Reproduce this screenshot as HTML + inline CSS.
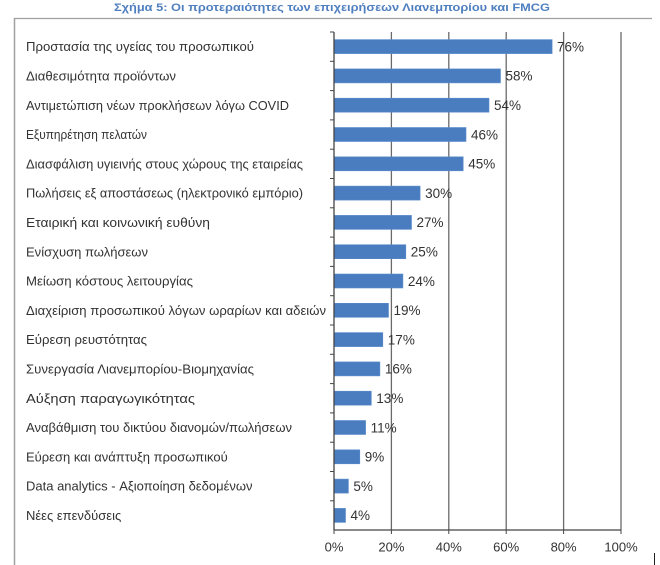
<!DOCTYPE html>
<html><head><meta charset="utf-8"><style>
html,body{margin:0;padding:0;background:#fff;}
svg{display:block;}
text{font-family:"Liberation Sans",Arial,sans-serif;}
</style></head><body>
<svg width="660" height="565" viewBox="0 0 660 565" xmlns="http://www.w3.org/2000/svg">
<rect width="660" height="565" fill="#fff"/>
<text x="332" y="11" font-size="11" font-weight="bold" fill="#4f7fbf" text-anchor="middle" textLength="436" lengthAdjust="spacingAndGlyphs">Σχήμα 5: Οι προτεραιότητες των επιχειρήσεων Λιανεμπορίου και FMCG</text>
<line x1="14" y1="18.5" x2="652" y2="18.5" stroke="#a0a0a0" stroke-width="1.2"/>
<line x1="14.5" y1="18" x2="14.5" y2="565" stroke="#a0a0a0" stroke-width="1.5"/>
<line x1="654.5" y1="553" x2="654.5" y2="565" stroke="#222" stroke-width="1"/>
<g stroke="#6a6a6a" stroke-width="1.3">
<line x1="391.4" y1="32" x2="391.4" y2="530"/>
<line x1="448.8" y1="32" x2="448.8" y2="530"/>
<line x1="506.2" y1="32" x2="506.2" y2="530"/>
<line x1="563.6" y1="32" x2="563.6" y2="530"/>
<line x1="621" y1="32" x2="621" y2="530"/>
</g>
<g fill="#4a7dc0" stroke="#5b8ccc" stroke-width="0.6">
<rect x="334" y="39.6" width="218.1" height="14"/>
<rect x="334" y="68.9" width="166.5" height="14"/>
<rect x="334" y="98.2" width="155" height="14"/>
<rect x="334" y="127.5" width="132" height="14"/>
<rect x="334" y="156.8" width="129.2" height="14"/>
<rect x="334" y="186.1" width="86.1" height="14"/>
<rect x="334" y="215.4" width="77.5" height="14"/>
<rect x="334" y="244.7" width="71.8" height="14"/>
<rect x="334" y="274" width="68.9" height="14"/>
<rect x="334" y="303.3" width="54.5" height="14"/>
<rect x="334" y="332.6" width="48.8" height="14"/>
<rect x="334" y="361.9" width="45.9" height="14"/>
<rect x="334" y="391.2" width="37.3" height="14"/>
<rect x="334" y="420.5" width="31.6" height="14"/>
<rect x="334" y="449.8" width="25.8" height="14"/>
<rect x="334" y="479.1" width="14.4" height="14"/>
<rect x="334" y="508.4" width="11.5" height="14"/>
</g>
<g stroke="#444" stroke-width="1.3">
<line x1="334" y1="32" x2="334" y2="530"/>
<line x1="334" y1="530" x2="621" y2="530"/>
</g>
<g stroke="#444" stroke-width="1">
<line x1="330" y1="32" x2="334" y2="32"/>
<line x1="330" y1="61.3" x2="334" y2="61.3"/>
<line x1="330" y1="90.6" x2="334" y2="90.6"/>
<line x1="330" y1="119.9" x2="334" y2="119.9"/>
<line x1="330" y1="149.2" x2="334" y2="149.2"/>
<line x1="330" y1="178.5" x2="334" y2="178.5"/>
<line x1="330" y1="207.8" x2="334" y2="207.8"/>
<line x1="330" y1="237.1" x2="334" y2="237.1"/>
<line x1="330" y1="266.4" x2="334" y2="266.4"/>
<line x1="330" y1="295.7" x2="334" y2="295.7"/>
<line x1="330" y1="325" x2="334" y2="325"/>
<line x1="330" y1="354.3" x2="334" y2="354.3"/>
<line x1="330" y1="383.6" x2="334" y2="383.6"/>
<line x1="330" y1="412.9" x2="334" y2="412.9"/>
<line x1="330" y1="442.2" x2="334" y2="442.2"/>
<line x1="330" y1="471.5" x2="334" y2="471.5"/>
<line x1="330" y1="500.8" x2="334" y2="500.8"/>
<line x1="334" y1="530" x2="334" y2="534"/>
<line x1="391.4" y1="530" x2="391.4" y2="534"/>
<line x1="448.8" y1="530" x2="448.8" y2="534"/>
<line x1="506.2" y1="530" x2="506.2" y2="534"/>
<line x1="563.6" y1="530" x2="563.6" y2="534"/>
<line x1="621" y1="530" x2="621" y2="534"/>
</g>
<g font-size="13" fill="#333">
<text x="26" y="51.2" textLength="228" lengthAdjust="spacingAndGlyphs">Προστασία της υγείας του προσωπικού</text>
<text x="26" y="80.5" textLength="150" lengthAdjust="spacingAndGlyphs">Διαθεσιμότητα προϊόντων</text>
<text x="26" y="109.8" textLength="263" lengthAdjust="spacingAndGlyphs">Αντιμετώπιση νέων προκλήσεων λόγω COVID</text>
<text x="26" y="139.1" textLength="121" lengthAdjust="spacingAndGlyphs">Εξυπηρέτηση πελατών</text>
<text x="26" y="168.4" textLength="277" lengthAdjust="spacingAndGlyphs">Διασφάλιση υγιεινής στους χώρους της εταιρείας</text>
<text x="26" y="197.7" textLength="277" lengthAdjust="spacingAndGlyphs">Πωλήσεις εξ αποστάσεως (ηλεκτρονικό εμπόριο)</text>
<text x="26" y="227" textLength="184" lengthAdjust="spacingAndGlyphs">Εταιρική και κοινωνική ευθύνη</text>
<text x="26" y="256.3" textLength="122" lengthAdjust="spacingAndGlyphs">Ενίσχυση πωλήσεων</text>
<text x="26" y="285.6" textLength="167" lengthAdjust="spacingAndGlyphs">Μείωση κόστους λειτουργίας</text>
<text x="26" y="314.9" textLength="300" lengthAdjust="spacingAndGlyphs">Διαχείριση προσωπικού λόγων ωραρίων και αδειών</text>
<text x="26" y="344.2" textLength="121" lengthAdjust="spacingAndGlyphs">Εύρεση ρευστότητας</text>
<text x="26" y="373.5" textLength="228" lengthAdjust="spacingAndGlyphs">Συνεργασία Λιανεμπορίου-Βιομηχανίας</text>
<text x="26" y="402.8" textLength="169" lengthAdjust="spacingAndGlyphs">Αύξηση παραγωγικότητας</text>
<text x="26" y="432.1" textLength="266" lengthAdjust="spacingAndGlyphs">Αναβάθμιση του δικτύου διανομών/πωλήσεων</text>
<text x="26" y="461.4">Εύρεση και ανάπτυξη προσωπικού</text>
<text x="26" y="490.7">Data analytics - Αξιοποίηση δεδομένων</text>
<text x="26" y="520">Νέες επενδύσεις</text>
</g>
<g font-size="13.5" fill="#333">
<text x="557" y="51.4">76%</text>
<text x="505.5" y="80.7">58%</text>
<text x="494" y="110">54%</text>
<text x="471" y="139.3">46%</text>
<text x="468.2" y="168.6">45%</text>
<text x="425.1" y="197.9">30%</text>
<text x="416.5" y="227.2">27%</text>
<text x="410.8" y="256.5">25%</text>
<text x="407.9" y="285.8">24%</text>
<text x="393.5" y="315.1">19%</text>
<text x="387.8" y="344.4">17%</text>
<text x="384.9" y="373.7">16%</text>
<text x="376.3" y="403">13%</text>
<text x="370.6" y="432.3">11%</text>
<text x="364.8" y="461.6">9%</text>
<text x="353.4" y="490.9">5%</text>
<text x="350.5" y="520.2">4%</text>
</g>
<g font-size="13" fill="#333" text-anchor="middle">
<text x="334" y="551.5">0%</text>
<text x="391.4" y="551.5">20%</text>
<text x="448.8" y="551.5">40%</text>
<text x="506.2" y="551.5">60%</text>
<text x="563.6" y="551.5">80%</text>
<text x="621" y="551.5">100%</text>
</g>
</svg>
</body></html>
